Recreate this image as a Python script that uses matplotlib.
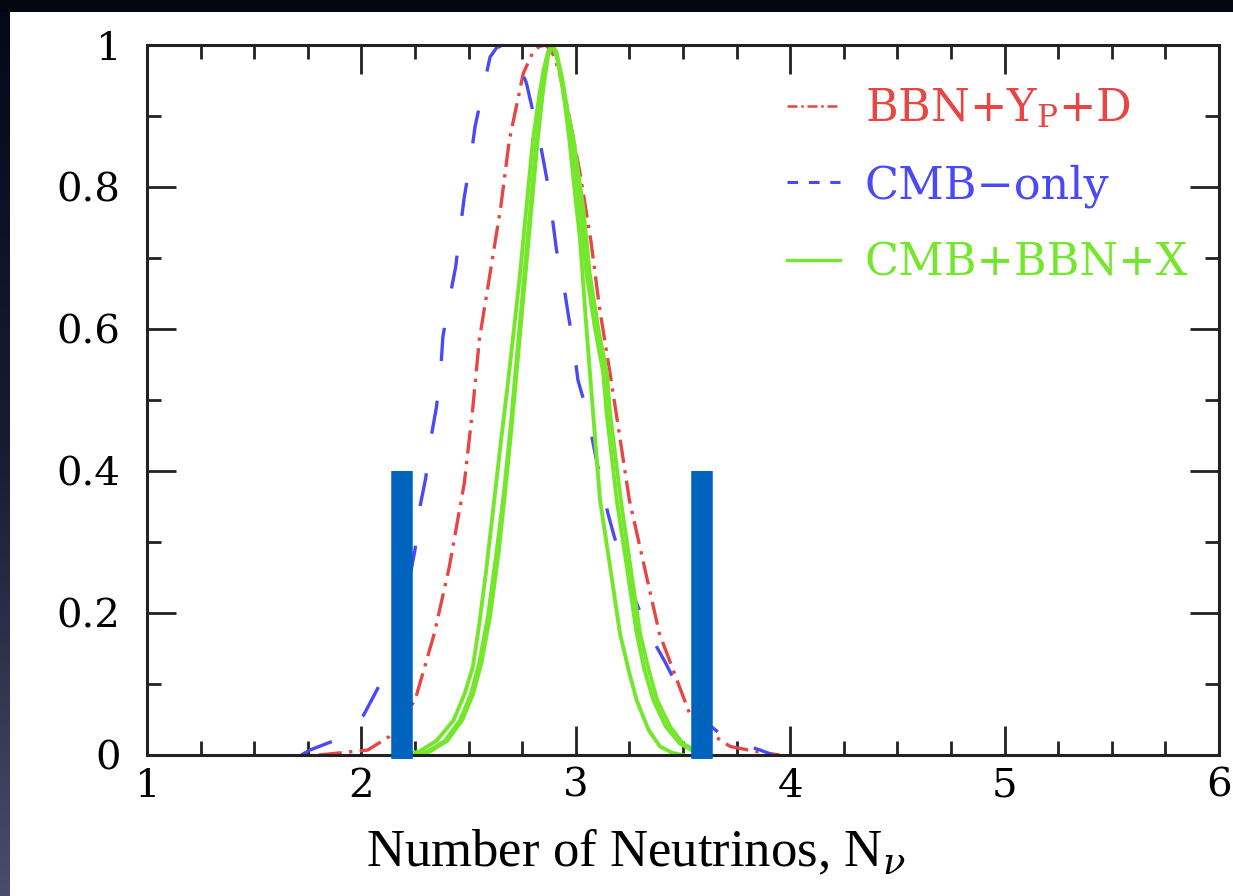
import numpy as np
import matplotlib
matplotlib.use("Agg")
import matplotlib.pyplot as plt
from matplotlib.patches import Rectangle
from matplotlib.lines import Line2D

plt.rcParams['font.family'] = 'DejaVu Serif'
plt.rcParams['mathtext.fontset'] = 'dejavuserif'

# likelihood curves, N_nu vs normalised probability
red_x = [1.80, 1.90, 2.03, 2.13, 2.25, 2.34, 2.41, 2.48, 2.52, 2.55, 2.60, 2.65,
         2.69, 2.755, 2.80, 2.83, 2.86, 2.89, 2.92, 2.96, 3.02, 3.07, 3.11, 3.16,
         3.19, 3.25, 3.32, 3.39, 3.46, 3.53, 3.64, 3.72, 3.84, 3.95]
red_y = [0.0, 0.003, 0.007, 0.026, 0.077, 0.171, 0.265, 0.383, 0.49, 0.585, 0.678, 0.772,
         0.866, 0.96, 0.99, 0.998, 1.0, 0.99, 0.965, 0.913, 0.819, 0.725, 0.631, 0.537,
         0.478, 0.359, 0.265, 0.171, 0.115, 0.059, 0.028, 0.012, 0.005, 0.0]

blue_x = [1.72, 1.76, 1.88, 2.01, 2.08, 2.15, 2.235, 2.25, 2.27, 2.30, 2.32, 2.35,
          2.37, 2.38, 2.41, 2.44, 2.46, 2.48, 2.51, 2.53, 2.57, 2.60, 2.63, 2.66,
          2.69, 2.72, 2.77, 2.82, 2.84, 2.87, 2.89, 2.91, 2.94, 2.965, 2.99, 3.01,
          3.05, 3.10, 3.15, 3.18, 3.25, 3.28, 3.35, 3.42, 3.49, 3.54, 3.62, 3.70,
          3.86, 3.92]
blue_y = [0.0, 0.007, 0.021, 0.056, 0.096, 0.148, 0.265, 0.289, 0.345, 0.39, 0.439, 0.49,
          0.542, 0.589, 0.641, 0.688, 0.739, 0.786, 0.84, 0.885, 0.941, 0.983, 0.996, 1.0,
          0.997, 0.986, 0.946, 0.88, 0.852, 0.803, 0.758, 0.711, 0.669, 0.620, 0.575, 0.528,
          0.486, 0.41, 0.34, 0.307, 0.244, 0.216, 0.167, 0.129, 0.087, 0.068, 0.043, 0.023,
          0.007, 0.0]

green_x = [
    [2.20, 2.27, 2.35, 2.43, 2.48, 2.52, 2.55, 2.58, 2.62, 2.65, 2.68, 2.71, 2.74,
     2.77, 2.80, 2.83, 2.85, 2.87, 2.89, 2.91, 2.93, 2.95, 2.97, 3.00, 3.02, 3.045,
     3.066, 3.082, 3.113, 3.16, 3.206, 3.25, 3.284, 3.34, 3.393, 3.45, 3.50],
    [2.25, 2.32, 2.40, 2.47, 2.52, 2.56, 2.60, 2.64, 2.67, 2.70, 2.73, 2.76, 2.79,
     2.82, 2.85, 2.87, 2.89, 2.91, 2.93, 2.955, 2.98, 3.02, 3.05, 3.09, 3.128,
     3.144, 3.191, 3.238, 3.284, 3.32, 3.362, 3.42, 3.486, 3.58],
    [2.24, 2.31, 2.39, 2.46, 2.51, 2.55, 2.59, 2.63, 2.665, 2.695, 2.725, 2.755,
     2.785, 2.815, 2.85, 2.87, 2.89, 2.91, 2.935, 2.96, 2.99, 3.035, 3.065, 3.105,
     3.145, 3.16, 3.21, 3.255, 3.30, 3.34, 3.38, 3.44, 3.50, 3.60],
]
green_y = [
    [0.0, 0.005, 0.02, 0.049, 0.085, 0.124, 0.185, 0.255, 0.36, 0.44, 0.515, 0.595, 0.678,
     0.772, 0.866, 0.93, 0.965, 0.99, 1.0, 0.99, 0.96, 0.915, 0.866, 0.78, 0.725, 0.62,
     0.538, 0.476, 0.359, 0.265, 0.171, 0.115, 0.077, 0.035, 0.012, 0.003, 0.0],
    [0.0, 0.005, 0.02, 0.049, 0.085, 0.13, 0.195, 0.285, 0.37, 0.46, 0.56, 0.66, 0.76,
     0.86, 0.945, 0.985, 1.0, 0.985, 0.955, 0.91, 0.866, 0.77, 0.678, 0.60, 0.538,
     0.481, 0.359, 0.265, 0.171, 0.12, 0.077, 0.04, 0.016, 0.0],
    [0.0, 0.005, 0.02, 0.049, 0.085, 0.13, 0.195, 0.285, 0.37, 0.46, 0.56, 0.66, 0.76,
     0.86, 0.945, 0.985, 1.0, 0.985, 0.955, 0.91, 0.866, 0.77, 0.678, 0.60, 0.538,
     0.481, 0.359, 0.265, 0.171, 0.12, 0.077, 0.04, 0.016, 0.0],
]

bar_x = [2.19, 3.59]
bar_top = 0.4

labels = ["BBN+Y$_{\\rm P}$+D", "CMB\u2212only", "CMB+BBN+X"]
red_c, blue_c, green_c = "#e84545", "#4a4af5", "#74e62c"

fig = plt.figure(figsize=(12.33, 8.96), dpi=100, facecolor="#05050f")

# dark frame: gradient strip on the left, white panel for the plot
bg = fig.add_axes([0, 0, 1, 1])
bg.set_axis_off()
grad = np.linspace(0, 1, 256)[:, None]
cmap = matplotlib.colors.LinearSegmentedColormap.from_list("frame", ["#4b4c6c", "#1a1a33", "#07071a"])
bg.imshow(grad, cmap=cmap, aspect="auto", extent=[0, 1, 0, 1], origin="lower")
bg.add_patch(Rectangle((0, 0.9866), 1, 0.02, color="#05050f", lw=0))
bg.add_patch(Rectangle((10 / 1233, 0), 1, 0.9866, color="white", lw=0))
bg.set_xlim(0, 1)
bg.set_ylim(0, 1)

ax = fig.add_axes([147 / 1233, (896 - 755) / 896, 1072 / 1233, 710 / 896])
ax.set_facecolor("white")

red_ls = (0, (7, 2.2, 1, 2.2))
blue_ls = (0, (10, 12))
ax.plot(red_x, red_y, color=red_c, lw=2.4, ls=red_ls)
ax.plot(blue_x, blue_y, color=blue_c, lw=2.4, ls=blue_ls)
for gx, gy in zip(green_x, green_y):
    ax.plot(gx, gy, color=green_c, lw=2.8, solid_joinstyle="round")

for bx in bar_x:
    ax.plot([bx, bx], [-0.005, bar_top], color="#0064be", lw=15.5,
            solid_capstyle="butt", clip_on=False, zorder=5)

ax.set_xlim(1, 6)
ax.set_ylim(0, 1)
ax.set_xticks([1, 2, 3, 4, 5, 6])
ax.set_xticks(np.arange(1, 6.01, 0.25), minor=True)
ax.set_yticks([0, 0.2, 0.4, 0.6, 0.8, 1])
ax.set_yticklabels(["0", "0.2", "0.4", "0.6", "0.8", "1"])
ax.set_yticks(np.arange(0, 1.01, 0.1), minor=True)
ax.tick_params(which="both", direction="in", top=True, right=True, width=2.0, colors="#222222")
ax.tick_params(which="major", length=21, labelsize=29, labelcolor="black")
ax.tick_params(axis="x", which="major", pad=9)
ax.tick_params(axis="y", which="major", pad=19)
ax.tick_params(which="minor", length=10)
for s in ax.spines.values():
    s.set_linewidth(2.2)
    s.set_color("#222222")

ax.set_xlabel("Number of Neutrinos, N$_\\nu$", fontfamily="Liberation Serif", fontsize=38)
ax.xaxis.set_label_coords((636 - 147) / 1072, -0.102)

# legend entries with short dash patterns for the sample lines
handles = [
    Line2D([], [], color=red_c, lw=1.8, ls=(0, (4, 1.5, 1, 1.5))),
    Line2D([], [], color=blue_c, lw=2.2, ls=(0, (3.5, 3.5))),
    Line2D([], [], color=green_c, lw=2.4),
]
leg = ax.legend(handles, labels, loc="upper left", bbox_to_anchor=(0.597, 0.942),
                frameon=False, prop={"family": "DejaVu Serif", "size": 32},
                handlelength=1.2, handletextpad=0.55, labelspacing=0.76,
                borderpad=0, borderaxespad=0)
for txt, c in zip(leg.get_texts(), [red_c, blue_c, green_c]):
    txt.set_color(c)

fig.savefig("out.png", dpi=100, facecolor=fig.get_facecolor())
